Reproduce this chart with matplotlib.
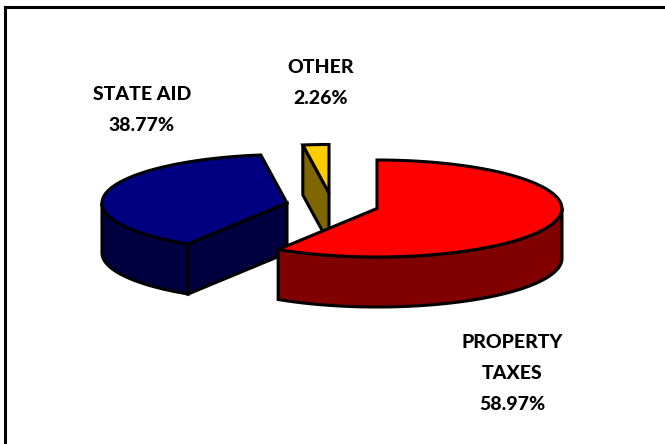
#!/usr/bin/env python3
import numpy as np
import matplotlib
matplotlib.use('Agg')
import matplotlib.pyplot as plt
from matplotlib.patches import Polygon

labels = ['PROPERTY\nTAXES', 'STATE AID', 'OTHER']
shares = [58.97, 38.77, 2.26]
top_colors = ['#ff0000', '#000080', '#ffcc00']
side_colors = ['#800000', '#000040', '#806600']

# slice centres, exploded apart like the original
centers = [(377, 208.5), (287, 203), (329, 193)]
RX, RY, DEPTH = 185, 48.5, 50

plt.rcParams['font.family'] = ['Lato', 'DejaVu Sans']

fig = plt.figure(figsize=(6.65, 4.44), dpi=100)
ax = fig.add_axes([0, 0, 1, 1])
ax.set_xlim(0, 665)
ax.set_ylim(444, 0)
ax.axis('off')


def rim(c, t0, t1, n=80):
    t = np.radians(np.linspace(t0, t1, n))
    return np.column_stack([c[0] + RX * np.sin(t), c[1] - RY * np.cos(t)])


def poly(pts, color, z):
    ax.add_patch(Polygon(pts, closed=True, facecolor=color, edgecolor='black',
                         linewidth=2.2, joinstyle='miter', zorder=z))


# slice angles, clockwise from 12 o'clock
edges = np.concatenate([[0], np.cumsum(shares)]) * 3.6
down = np.array([0, DEPTH])

# blue
c = np.array(centers[1], float)
a0, a1 = edges[1], edges[2]
arc = rim(c, a0, a1)
front = rim(c, a0, 270)
poly(np.vstack([front, (front + down)[::-1]]), side_colors[1], 2)
poly([arc[0], c, c + down, arc[0] + down], side_colors[1], 2)
poly(np.vstack([c, arc]), top_colors[1], 3)

# yellow
c = np.array(centers[2], float)
a0, a1 = edges[2], edges[3]
arc = rim(c, a0, a1)
poly([arc[0], c, c + down, arc[0] + down], side_colors[2], 2)
poly(np.vstack([c, arc]), top_colors[2], 3)

# red goes last, it overlaps the other two
c = np.array(centers[0], float)
a0, a1 = edges[0], edges[1]
arc = rim(c, a0, a1)
front = rim(c, 90, a1)
poly(np.vstack([front, (front + down)[::-1]]), side_colors[0], 4)
poly(np.vstack([c, arc]), top_colors[0], 5)

text_pos = [(512, 373.5), (142, 110), (321, 83)]
for name, val, (x, y) in zip(labels, shares, text_pos):
    ax.text(x, y, '%s\n%.2f%%' % (name, val), ha='center', va='center',
            fontsize=14, fontweight=900, linespacing=1.98, color='black')

# outer frame, only left and top are inside the picture
ax.plot([5, 5, 665], [444, 7, 7], color='black', lw=2.2, solid_joinstyle='miter')

fig.savefig('out.png', dpi=100)
